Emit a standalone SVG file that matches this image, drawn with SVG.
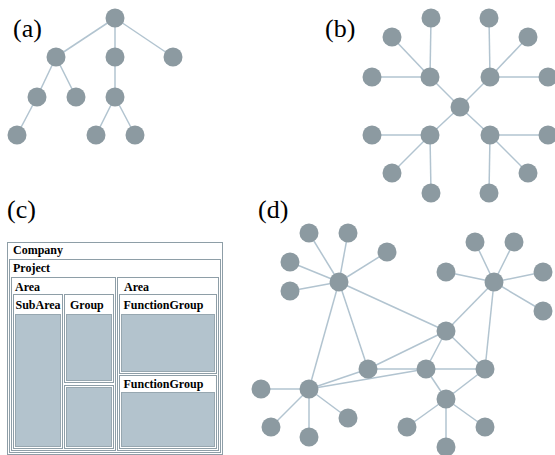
<svg xmlns="http://www.w3.org/2000/svg" width="555" height="455" viewBox="0 0 555 455">
<style>
.lbl{font-family:"Liberation Serif","Times New Roman",serif;font-size:26px;fill:#000}
.e line{stroke:#b2c4d0;stroke-width:1.5}
.n{fill:#8c9aa1}
.box{fill:#fff;stroke:#8e9ea7;stroke-width:1}
.fill{fill:#b3c3cd;stroke:#97a7b0;stroke-width:1}
.t{font-family:"Liberation Serif","Times New Roman",serif;font-size:12px;font-weight:bold;fill:#000}
</style>
<rect width="555" height="455" fill="#fff"/>
<text class="lbl" x="13" y="37">(a)</text>
<text class="lbl" x="325" y="37">(b)</text>
<text class="lbl" x="7" y="218">(c)</text>
<text class="lbl" x="258" y="218">(d)</text>

<!-- (a) tree -->
<g id="a-edges" class="e">
<line x1="115" y1="18" x2="56" y2="57"/><line x1="115" y1="18" x2="115" y2="57"/><line x1="115" y1="18" x2="173" y2="57"/>
<line x1="56" y1="57" x2="37" y2="97"/><line x1="56" y1="57" x2="76" y2="97"/><line x1="115" y1="57" x2="115" y2="97"/>
<line x1="37" y1="97" x2="17" y2="135"/><line x1="115" y1="97" x2="96" y2="135"/><line x1="115" y1="97" x2="135" y2="135"/>
</g>
<g id="a-nodes">
<circle id="a1" class="n" cx="115" cy="18" r="9.5"/>
<circle id="a2" class="n" cx="56" cy="57" r="9.5"/>
<circle id="a3" class="n" cx="115" cy="57" r="9.5"/>
<circle id="a4" class="n" cx="173" cy="57" r="9.5"/>
<circle id="a5" class="n" cx="37" cy="97" r="9.5"/>
<circle id="a6" class="n" cx="76" cy="97" r="9.5"/>
<circle id="a7" class="n" cx="115" cy="97" r="9.5"/>
<circle id="a8" class="n" cx="17" cy="135" r="9.5"/>
<circle id="a9" class="n" cx="96" cy="135" r="9.5"/>
<circle id="a10" class="n" cx="135" cy="135" r="9.5"/>
</g>

<!-- (b) star -->
<g id="b-edges" class="e">
<line x1="460" y1="107" x2="430" y2="77"/><line x1="460" y1="107" x2="490" y2="77"/><line x1="460" y1="107" x2="430" y2="135"/><line x1="460" y1="107" x2="490" y2="135"/>
<line x1="430" y1="77" x2="431" y2="18"/><line x1="430" y1="77" x2="392" y2="37"/><line x1="430" y1="77" x2="372" y2="77"/>
<line x1="490" y1="77" x2="489" y2="18"/><line x1="490" y1="77" x2="528" y2="37"/><line x1="490" y1="77" x2="548" y2="77"/>
<line x1="430" y1="135" x2="372" y2="135"/><line x1="430" y1="135" x2="392" y2="173"/><line x1="430" y1="135" x2="431" y2="193"/>
<line x1="490" y1="135" x2="548" y2="135"/><line x1="490" y1="135" x2="528" y2="173"/><line x1="490" y1="135" x2="489" y2="193"/>
</g>
<g id="b-nodes">
<circle id="b0" class="n" cx="460" cy="107" r="9.5"/>
<circle id="b1" class="n" cx="430" cy="77" r="9.5"/>
<circle id="b2" class="n" cx="490" cy="77" r="9.5"/>
<circle id="b3" class="n" cx="430" cy="135" r="9.5"/>
<circle id="b4" class="n" cx="490" cy="135" r="9.5"/>
<circle id="b5" class="n" cx="431" cy="18" r="9.5"/>
<circle id="b6" class="n" cx="392" cy="37" r="9.5"/>
<circle id="b7" class="n" cx="372" cy="77" r="9.5"/>
<circle id="b8" class="n" cx="489" cy="18" r="9.5"/>
<circle id="b9" class="n" cx="528" cy="37" r="9.5"/>
<circle id="b10" class="n" cx="548" cy="77" r="9.5"/>
<circle id="b11" class="n" cx="372" cy="135" r="9.5"/>
<circle id="b12" class="n" cx="392" cy="173" r="9.5"/>
<circle id="b13" class="n" cx="431" cy="193" r="9.5"/>
<circle id="b14" class="n" cx="548" cy="135" r="9.5"/>
<circle id="b15" class="n" cx="528" cy="173" r="9.5"/>
<circle id="b16" class="n" cx="489" cy="193" r="9.5"/>
</g>

<!-- (c) treemap -->
<g id="c-company">
<rect class="box" x="7.5" y="242.5" width="215" height="212"/>
<text class="t" x="13" y="254">Company</text>
</g>
<g id="c-project">
<rect class="box" x="9.5" y="259.5" width="211" height="193"/>
<text class="t" x="13" y="272">Project</text>
</g>
<g id="c-area1">
<rect class="box" x="11.5" y="277.5" width="104" height="173"/>
<text class="t" x="15" y="291">Area</text>
</g>
<g id="c-area2">
<rect class="box" x="117.5" y="277.5" width="101" height="173"/>
<text class="t" x="124" y="291">Area</text>
</g>
<g id="c-subarea">
<rect class="box" x="13.5" y="294.5" width="49" height="154"/>
<rect class="fill" x="15.5" y="314.5" width="45" height="132"/>
<text class="t" x="15.5" y="309">SubArea</text>
</g>
<g id="c-group1">
<rect class="box" x="64.5" y="294.5" width="49" height="88"/>
<rect class="fill" x="66.5" y="314.5" width="45" height="66"/>
<text class="t" x="70" y="309">Group</text>
</g>
<g id="c-group2">
<rect class="box" x="64.5" y="385.5" width="49" height="63"/>
<rect class="fill" x="66.5" y="387.5" width="45" height="59"/>
</g>
<g id="c-fg1">
<rect class="box" x="119.5" y="294.5" width="97" height="79"/>
<rect class="fill" x="121.5" y="314.5" width="93" height="57"/>
<text class="t" x="123.5" y="309">FunctionGroup</text>
</g>
<g id="c-fg2">
<rect class="box" x="119.5" y="375.5" width="97" height="73"/>
<rect class="fill" x="121.5" y="392.5" width="93" height="54"/>
<text class="t" x="123.5" y="388">FunctionGroup</text>
</g>

<!-- (d) network -->
<g id="d-edges" class="e">
<line x1="339" y1="282" x2="309" y2="233"/><line x1="339" y1="282" x2="348" y2="233"/><line x1="339" y1="282" x2="387" y2="252"/><line x1="339" y1="282" x2="290" y2="262"/><line x1="339" y1="282" x2="290" y2="291"/>
<line x1="494" y1="282" x2="475" y2="242"/><line x1="494" y1="282" x2="514" y2="242"/><line x1="494" y1="282" x2="446" y2="272"/><line x1="494" y1="282" x2="543" y2="272"/><line x1="494" y1="282" x2="543" y2="311"/>
<line x1="339" y1="282" x2="446" y2="331"/><line x1="339" y1="282" x2="368" y2="369"/><line x1="339" y1="282" x2="309" y2="389"/>
<line x1="494" y1="282" x2="446" y2="331"/><line x1="494" y1="282" x2="485" y2="369"/>
<line x1="446" y1="331" x2="368" y2="369"/><line x1="446" y1="331" x2="426" y2="369"/><line x1="446" y1="331" x2="485" y2="369"/>
<line x1="368" y1="369" x2="426" y2="369"/><line x1="368" y1="369" x2="309" y2="389"/><line x1="309" y1="389" x2="426" y2="369"/>
<line x1="426" y1="369" x2="485" y2="369"/><line x1="426" y1="369" x2="446" y2="399"/><line x1="485" y1="369" x2="446" y2="399"/>
<line x1="446" y1="399" x2="407" y2="427"/><line x1="446" y1="399" x2="485" y2="427"/><line x1="446" y1="399" x2="446" y2="447"/>
<line x1="309" y1="389" x2="261" y2="389"/><line x1="309" y1="389" x2="271" y2="427"/><line x1="309" y1="389" x2="309" y2="437"/><line x1="309" y1="389" x2="348" y2="418"/>
</g>
<g id="d-nodes">
<circle id="dA" class="n" cx="339" cy="282" r="9.5"/>
<circle id="dA1" class="n" cx="309" cy="233" r="9.5"/>
<circle id="dA2" class="n" cx="348" cy="233" r="9.5"/>
<circle id="dA3" class="n" cx="387" cy="252" r="9.5"/>
<circle id="dA4" class="n" cx="290" cy="262" r="9.5"/>
<circle id="dA5" class="n" cx="290" cy="291" r="9.5"/>
<circle id="dB" class="n" cx="494" cy="282" r="9.5"/>
<circle id="dB1" class="n" cx="475" cy="242" r="9.5"/>
<circle id="dB2" class="n" cx="514" cy="242" r="9.5"/>
<circle id="dB3" class="n" cx="446" cy="272" r="9.5"/>
<circle id="dB4" class="n" cx="543" cy="272" r="9.5"/>
<circle id="dB5" class="n" cx="543" cy="311" r="9.5"/>
<circle id="dC" class="n" cx="446" cy="331" r="9.5"/>
<circle id="dD" class="n" cx="368" cy="369" r="9.5"/>
<circle id="dE" class="n" cx="426" cy="369" r="9.5"/>
<circle id="dF" class="n" cx="485" cy="369" r="9.5"/>
<circle id="dG" class="n" cx="309" cy="389" r="9.5"/>
<circle id="dG1" class="n" cx="261" cy="389" r="9.5"/>
<circle id="dG2" class="n" cx="271" cy="427" r="9.5"/>
<circle id="dG3" class="n" cx="309" cy="437" r="9.5"/>
<circle id="dG4" class="n" cx="348" cy="418" r="9.5"/>
<circle id="dH" class="n" cx="446" cy="399" r="9.5"/>
<circle id="dH1" class="n" cx="407" cy="427" r="9.5"/>
<circle id="dH2" class="n" cx="485" cy="427" r="9.5"/>
<circle id="dH3" class="n" cx="446" cy="447" r="9.5"/>
</g>
</svg>
